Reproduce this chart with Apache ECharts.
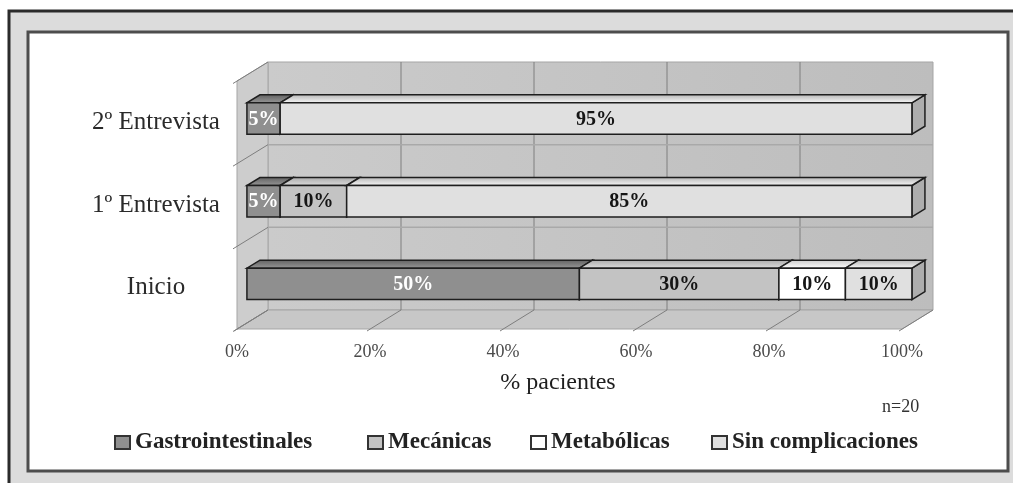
<!DOCTYPE html>
<html>
<head>
<meta charset="utf-8">
<script src="https://cdn.jsdelivr.net/npm/echarts@6/dist/echarts.min.js"></script>
<style>
  html, body { margin: 0; padding: 0; background: #fff; }
  #complicaciones { width: 1013px; height: 483px; }
</style>
</head>
<body>
<div id="complicaciones"></div>
<script>
// Complicaciones por momento de entrevista (n=20)
const categories = ["Inicio", "1º Entrevista", "2º Entrevista"];
const seriesNames = ["Gastrointestinales", "Mecánicas", "Metabólicas", "Sin complicaciones"];
const gastro = [50, 5, 5];
const mecanicas = [30, 10, 0];
const metabolicas = [10, 0, 0];
const sinComplicaciones = [10, 85, 95];
const xTicks = [0, 20, 40, 60, 80, 100];

(function() {
  const FONT = '"Liberation Serif", "Times New Roman", serif';
  // 3D depth of the box and where the bars sit inside it
  const DX = 31, DY = -19;
  const F0 = 0.32, F1 = 0.74;
  const FY = 0.2;

  const faceColors = ["#8f8f8f", "#c3c3c3", "#ffffff", "#e0e0e0"];
  const topColors = [["#5f5f5f", "#9a9a9a"], ["#a9a9a9", "#dedede"], ["#c9c9c9", "#ffffff"], ["#b4b4b4", "#fafafa"]];
  const sideColors = ["#6c6c6c", "#a2a2a2", "#d2d2d2", "#adadad"];
  const labelColors = ["#ffffff", "#151515", "#151515", "#151515"];
  const legendLefts = [109, 362, 525, 706];

  const stacks = [gastro, mecanicas, metabolicas, sinComplicaciones];
  const starts = stacks.map((s, k) => s.map((_, i) => {
    let acc = 0;
    for (let j = 0; j < k; j++) acc += stacks[j][i];
    return acc;
  }));

  function renderFrame(params, api) {
    const left = api.coord([0, 0])[0];
    const right = api.coord([100, 0])[0];
    const band = api.size([0, 1])[1];
    const bottom = api.coord([0, 0])[1] + band / 2;
    const top = api.coord([0, categories.length - 1])[1] - band / 2;
    const line = { stroke: "#7e7e7e", lineWidth: 1 };
    const children = [
      {
        type: "rect",
        shape: { x: left + DX, y: top + DY, width: right - left, height: bottom - top },
        style: {
          fill: new echarts.graphic.LinearGradient(0, 0, 1, 0, [
            { offset: 0, color: "#cbcbcb" },
            { offset: 1, color: "#bdbdbd" }
          ]),
          stroke: "#a5a5a5", lineWidth: 1
        }
      },
      {
        type: "polygon",
        shape: { points: [[left, top], [left + DX, top + DY], [left + DX, bottom + DY], [left, bottom]] },
        style: { fill: "#cdcdcd", stroke: "#a5a5a5", lineWidth: 1 }
      },
      {
        type: "polygon",
        shape: { points: [[left, bottom], [right, bottom], [right + DX, bottom + DY], [left + DX, bottom + DY]] },
        style: { fill: "#c7c7c7", stroke: "#a5a5a5", lineWidth: 1 }
      }
    ];
    xTicks.forEach((t) => {
      const x = api.coord([t, 0])[0];
      if (t > 0 && t < 100) {
        children.push({ type: "line", shape: { x1: x + DX, y1: top + DY, x2: x + DX, y2: bottom + DY }, style: line });
      }
      children.push({ type: "line", shape: { x1: x - 3, y1: bottom + 2, x2: x + DX, y2: bottom + DY }, style: line });
    });
    for (let i = 1; i < categories.length; i++) {
      const y = bottom - i * band;
      children.push({ type: "line", shape: { x1: left + DX, y1: y + DY, x2: right + DX, y2: y + DY }, style: { stroke: "#a9a9a9", lineWidth: 1.5 } });
    }
    for (let i = 0; i <= categories.length; i++) {
      const y = bottom - i * band;
      children.push({ type: "line", shape: { x1: left - 4, y1: y + 2.5, x2: left + DX, y2: y + DY }, style: line });
    }
    return { type: "group", children: children };
  }

  function makeBarRenderer(k) {
    return function(params, api) {
      const cat = api.value(0);
      const start = api.value(1);
      const val = api.value(2);
      if (!val) return null;
      const p0 = api.coord([start, cat]);
      const p1 = api.coord([start + val, cat]);
      const band = api.size([0, 1])[1];
      const h = band * 0.38;
      const ox = DX * F0, oy = DY * FY;
      const dx = DX * (F1 - F0), dy = DY * (F1 - F0);
      const x0 = p0[0] + ox, x1 = p1[0] + ox;
      const yTop = p0[1] + oy - h / 2, yBot = yTop + h;
      const edge = { stroke: "#1e1e1e", lineWidth: 1.5 };
      return {
        type: "group",
        children: [
          {
            type: "polygon",
            shape: { points: [[x1, yTop], [x1 + dx, yTop + dy], [x1 + dx, yBot + dy], [x1, yBot]] },
            style: Object.assign({ fill: sideColors[k] }, edge)
          },
          {
            type: "polygon",
            shape: { points: [[x0, yTop], [x1, yTop], [x1 + dx, yTop + dy], [x0 + dx, yTop + dy]] },
            style: Object.assign({
              fill: new echarts.graphic.LinearGradient(0, 0, 0, 1, [
                { offset: 0, color: topColors[k][0] },
                { offset: 1, color: topColors[k][1] }
              ])
            }, edge)
          },
          {
            type: "rect",
            shape: { x: x0, y: yTop, width: x1 - x0, height: h },
            style: Object.assign({ fill: faceColors[k] }, edge)
          },
          {
            type: "text",
            style: {
              text: val + "%",
              x: (x0 + x1) / 2,
              y: (yTop + yBot) / 2 + 1,
              align: "center",
              verticalAlign: "middle",
              font: "bold 20px " + FONT,
              fill: labelColors[k]
            }
          }
        ]
      };
    };
  }

  const barSeries = seriesNames.map((name, k) => ({
    name: name,
    type: "custom",
    z: 3,
    renderItem: makeBarRenderer(k),
    itemStyle: { color: faceColors[k], borderColor: "#333", borderWidth: 1.5 },
    encode: { x: [1, 2], y: 0 },
    data: stacks[k].map((v, i) => [i, starts[k][i], v])
  }));

  const option = {
    animation: false,
    backgroundColor: "#ffffff",
    graphic: [
      {
        type: "rect", z: -10,
        shape: { x: 9, y: 11, width: 1020, height: 480 },
        style: { fill: "#dcdcdc", stroke: "#2b2b2b", lineWidth: 3 }
      },
      {
        type: "rect", z: -9,
        shape: { x: 28, y: 32, width: 980, height: 439 },
        style: { fill: "#ffffff", stroke: "#4d4d4d", lineWidth: 3 }
      }
    ],
    title: [
      {
        text: "% pacientes",
        left: 553, top: 366, textAlign: "center",
        textStyle: { fontFamily: FONT, fontSize: 24, fontWeight: "normal", color: "#1e1e1e" }
      },
      {
        text: "n=20",
        left: 877, top: 393,
        textStyle: { fontFamily: FONT, fontSize: 18, fontWeight: "normal", color: "#333" }
      }
    ],
    legend: seriesNames.map((name, k) => ({
      data: [name],
      left: legendLefts[k],
      top: 426,
      icon: "rect",
      itemWidth: 15,
      itemHeight: 13,
      textStyle: { fontFamily: FONT, fontSize: 23, fontWeight: "bold", color: "#222" },
      selectedMode: false
    })),
    grid: {
      left: 237,
      right: 111,
      top: 81,
      bottom: 154,
      containLabel: false,
      outerBoundsMode: "none"
    },
    xAxis: {
      type: "value",
      min: 0,
      max: 100,
      interval: 20,
      axisLine: { show: false },
      axisTick: { show: false },
      splitLine: { show: false },
      axisLabel: {
        formatter: "{value}%",
        margin: 14,
        fontFamily: FONT,
        fontSize: 18,
        color: "#4a4a4a"
      }
    },
    yAxis: {
      type: "category",
      data: categories,
      axisLine: { show: false },
      axisTick: { show: false },
      splitLine: { show: false },
      axisLabel: {
        align: "center",
        margin: 81,
        fontFamily: FONT,
        fontSize: 25,
        color: "#2a2a2a"
      }
    },
    series: [
      {
        name: "frame",
        type: "custom",
        z: 1,
        silent: true,
        renderItem: renderFrame,
        data: [[0]]
      }
    ].concat(barSeries)
  };

  const chart = echarts.init(document.getElementById("complicaciones"));
  chart.setOption(option);
  window.addEventListener("resize", () => chart.resize());
})();
</script>
</body>
</html>
